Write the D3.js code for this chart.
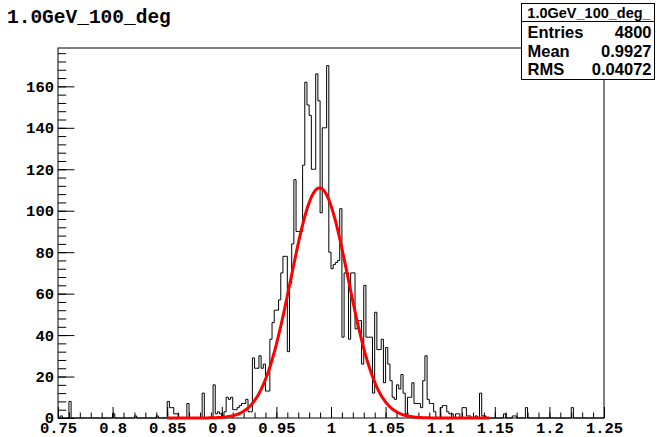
<!DOCTYPE html>
<html>
<head>
<meta charset="utf-8">
<script src="https://cdn.jsdelivr.net/npm/d3@7"></script>
<style>
  body { margin: 0; background: #fff; }
  svg { display: block; }
</style>
</head>
<body>
<svg id="chart" width="657" height="437"></svg>
<script>
// ---- data ----
const histTitle = "1.0GeV_100_deg";
const statsTitle = "1.0GeV_100_deg_";
const statsLabels = ["Entries", "Mean", "RMS"];
const statsValues = ["4800", "0.9927", "0.04072"];

const xMin = 0.75, xMax = 1.25, nBins = 250;

// bin contents, 250 bins of width 0.002 from 0.75 to 1.25
const counts = [
  0, 1, 0, 0, 0, 8, 0, 0, 0, 0,        // 0.750
  0, 0, 0, 0, 0, 0, 0, 0, 0, 0,        // 0.770
  0, 0, 0, 0, 0, 2, 0, 0, 0, 0,        // 0.790
  0, 0, 0, 0, 0, 1, 0, 0, 0, 0,        // 0.810
  0, 0, 0, 0, 0, 1, 0, 0, 0, 0,        // 0.830
  8, 5, 5, 2, 2, 0, 0, 0, 0, 7,        // 0.850
  0, 0, 0, 0, 0, 0, 12, 0, 0, 0,       // 0.870
  0, 16, 2, 3, 2, 1, 3, 10, 9, 10,     // 0.890
  4, 4, 5, 6, 7, 7, 9, 3, 3, 29,       // 0.910
  24, 24, 30, 24, 26, 13, 13, 38, 46, 52,    // 0.930
  52, 57, 70, 78, 78, 32, 65, 84, 115, 90,   // 0.950
  90, 90, 122, 162, 151, 146, 120, 120, 166, 153, // 0.970
  99, 140, 140, 170, 80, 72, 74, 75, 76, 101,     // 0.990
  39, 70, 70, 38, 70, 70, 43, 47, 47, 26,    // 1.010
  64, 39, 39, 39, 12, 51, 33, 33, 38, 17,    // 1.030
  34, 26, 18, 10, 9, 16, 14, 21, 12, 2,      // 1.050
  10, 10, 17, 7, 7, 7, 5, 18, 30, 9,         // 1.070
  7, 7, 3, 0, 0, 5, 6, 6, 3, 2,              // 1.090
  2, 0, 2, 2, 0, 5, 5, 1, 1, 0,              // 1.110
  0, 1, 0, 12, 1, 1, 0, 0, 0, 0,             // 1.130
  0, 0, 0, 0, 2, 0, 0, 0, 1, 1,              // 1.150
  0, 0, 0, 0, 5, 0, 0, 0, 0, 0,              // 1.170
  0, 0, 0, 0, 0, 0, 0, 0, 0, 0,              // 1.190
  0, 0, 0, 0, 0, 5, 0, 0, 0, 0,              // 1.210
  0, 0, 0, 0, 0, 0, 0, 0, 0, 0               // 1.230
];

const xTickValues = [0.75, 0.8, 0.85, 0.9, 0.95, 1.0, 1.05, 1.1, 1.15, 1.2, 1.25];
const xTickLabels = ["0.75", "0.8", "0.85", "0.9", "0.95", "1", "1.05", "1.1", "1.15", "1.2", "1.25"];
const yTickValues = [0, 20, 40, 60, 80, 100, 120, 140, 160];
const yTickLabels = ["0", "20", "40", "60", "80", "100", "120", "140", "160"];

// gaussian fit: constant, mean, sigma and the range it was fitted over
const fitConstant = 111, fitMean = 0.9895, fitSigma = 0.0262;
const fitRange = [0.85, 1.145];

// ---- layout ----
const frame = { left: 58, right: 604, top: 48, bottom: 418 };
const binWidth = (xMax - xMin) / nBins;
const yMax = 1.05 * d3.max(counts);

const svg = d3.select("#chart");
const x = d3.scaleLinear().domain([xMin, xMax]).range([frame.left, frame.right]);
const y = d3.scaleLinear().domain([0, yMax]).range([frame.bottom, frame.top]);

const monoFont = "'Liberation Mono', 'Courier New', monospace";
const sansFont = "'Liberation Sans', Arial, Helvetica, sans-serif";

// frame
svg.append("rect")
  .attr("x", frame.left).attr("y", frame.top)
  .attr("width", frame.right - frame.left).attr("height", frame.bottom - frame.top)
  .attr("fill", "none").attr("stroke", "#000").attr("stroke-width", 1);

// x axis: minor ticks every 0.01, major every 0.05, pointing into the frame
const xMinor = d3.range(0, 51).map(i => xMin + i * 0.01);
svg.append("g")
  .attr("transform", `translate(0,${frame.bottom})`)
  .call(d3.axisBottom(x).tickValues(xMinor).tickSize(-5.5).tickFormat(""))
  .call(g => g.select(".domain").remove());

svg.append("g")
  .attr("transform", `translate(0,${frame.bottom})`)
  .call(d3.axisBottom(x).tickValues(xTickValues).tickSize(-11).tickPadding(4)
    .tickFormat((d, i) => xTickLabels[i]))
  .call(g => g.select(".domain").remove())
  .call(g => g.selectAll("text")
    .attr("font-family", monoFont).attr("font-weight", "bold")
    .attr("font-size", 15.5).attr("fill", "#000"));

// y axis: minor ticks every 4, major every 20
const yMinor = d3.range(0, 45).map(i => i * 4).filter(v => v <= yMax);
svg.append("g")
  .attr("transform", `translate(${frame.left},0)`)
  .call(d3.axisLeft(y).tickValues(yMinor).tickSize(-8.2).tickFormat(""))
  .call(g => g.select(".domain").remove());

svg.append("g")
  .attr("transform", `translate(${frame.left},0)`)
  .call(d3.axisLeft(y).tickValues(yTickValues).tickSize(-16.4).tickPadding(4)
    .tickFormat((d, i) => yTickLabels[i]))
  .call(g => g.select(".domain").remove())
  .call(g => g.selectAll("text")
    .attr("font-family", monoFont).attr("font-weight", "bold")
    .attr("font-size", 15.5).attr("fill", "#000"));

svg.selectAll(".tick line").attr("stroke", "#000");

// histogram outline
const steps = [];
counts.forEach((c, i) => {
  const lo = xMin + i * binWidth;
  steps.push([lo, c], [lo + binWidth, c]);
});
steps.unshift([xMin, 0]);
steps.push([xMax, 0]);

svg.append("path")
  .datum(steps)
  .attr("fill", "none")
  .attr("stroke", "#000")
  .attr("stroke-width", 1)
  .attr("d", d3.line().x(d => x(d[0])).y(d => y(d[1])));

// fitted gaussian
const gauss = v => fitConstant * Math.exp(-0.5 * Math.pow((v - fitMean) / fitSigma, 2));
const fitPts = d3.range(0, 301).map(i => {
  const v = fitRange[0] + (fitRange[1] - fitRange[0]) * i / 300;
  return [v, gauss(v)];
});
svg.append("path")
  .datum(fitPts)
  .attr("fill", "none")
  .attr("stroke", "#ff0000")
  .attr("stroke-width", 3)
  .attr("stroke-linejoin", "round")
  .attr("d", d3.line().x(d => x(d[0])).y(d => y(d[1])));

// histogram title
svg.append("text")
  .attr("x", 7).attr("y", 23)
  .attr("font-family", monoFont).attr("font-weight", "bold")
  .attr("font-size", 19.5).attr("fill", "#000")
  .text(histTitle);

// statistics box
const box = { x: 521.5, y: 3.5, w: 133, h: 76, sep: 21.5 };
const sb = svg.append("g");
sb.append("rect")
  .attr("x", box.x).attr("y", box.y).attr("width", box.w).attr("height", box.h)
  .attr("fill", "#fff").attr("stroke", "#000").attr("stroke-width", 1);
sb.append("line")
  .attr("x1", box.x).attr("x2", box.x + box.w)
  .attr("y1", box.sep).attr("y2", box.sep)
  .attr("stroke", "#000");
sb.append("text")
  .attr("x", box.x + box.w / 2 + 1).attr("y", 17.5)
  .attr("text-anchor", "middle")
  .attr("font-family", sansFont).attr("font-weight", "bold")
  .attr("font-size", 14.5).attr("fill", "#000")
  .text(statsTitle);
const rowY = [38, 56.5, 75];
statsLabels.forEach((lab, i) => {
  sb.append("text")
    .attr("x", box.x + 6).attr("y", rowY[i])
    .attr("font-family", sansFont).attr("font-weight", "bold")
    .attr("font-size", 16.5).attr("fill", "#000")
    .text(lab);
  sb.append("text")
    .attr("x", box.x + box.w - 3).attr("y", rowY[i])
    .attr("text-anchor", "end")
    .attr("font-family", sansFont).attr("font-weight", "bold")
    .attr("font-size", 16.5).attr("fill", "#000")
    .text(statsValues[i]);
});
</script>
</body>
</html>
